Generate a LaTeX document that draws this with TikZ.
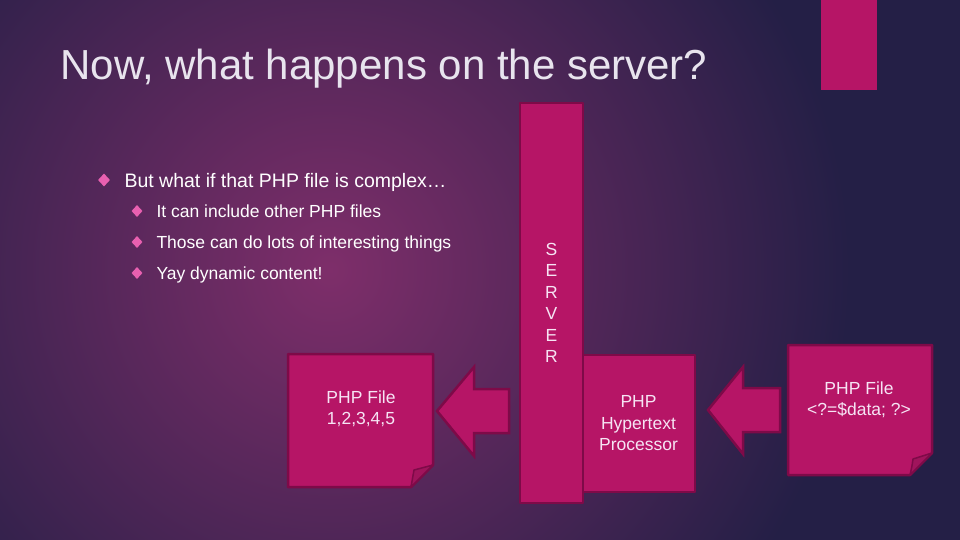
\documentclass[tikz,border=0pt]{standalone}
\usepackage{fontspec}
\setmainfont{Liberation Sans}
\usetikzlibrary{
  shapes.geometric,
  positioning,
  calc
}
\definecolor{bgdark}{RGB}{36, 31, 70}
\definecolor{bgglow}{RGB}{126, 46, 106}
\definecolor{notefill}{RGB}{182, 21, 102}
\definecolor{noteedge}{RGB}{126, 10, 72}
\definecolor{foldfill}{RGB}{160, 20, 92}
\definecolor{bulletcolor}{RGB}{232, 96, 176}
\definecolor{titlecolor}{RGB}{232, 228, 238}
\definecolor{notetext}{RGB}{246, 228, 244}
\tikzset{
notebody/.style={
  fill=notefill,
  draw=noteedge,
  line width=2.5pt,
  line join=round
},
notelabel/.style={
  align=center,
  font=\fontsize{17.5}{21.5}\selectfont,
  text=notetext
},
serverbox/.style={
  notebody,
  notelabel,
  inner sep=0pt
},
blockarrow/.style={
  fill=notefill,
  draw=noteedge,
  line width=2.5pt
},
titlelabel/.style={
  anchor=base west,
  font=\fontsize{42}{50}\selectfont,
  text=titlecolor
},
itemlabel/.style={
  anchor=base west,
  font=\fontsize{19.5}{24}\selectfont,
  text=white
},
subitemlabel/.style={
  anchor=base west,
  font=\fontsize{17.5}{21}\selectfont,
  text=white
},
bulletmark/.style={
  diamond,
  fill=bulletcolor,
  inner sep=0pt,
  minimum width=12pt,
  minimum height=13pt
},
subbulletmark/.style={
  bulletmark,
  minimum width=11pt,
  minimum height=12pt
}
}

\begin{document}
\begin{tikzpicture}[x=1pt,y=-1pt]
  % background
  \fill[bgdark] (0,0) rectangle (960,540);
  \begin{scope}
    \clip (0,0) rectangle (960,540);
    \shade[inner color=bgglow, outer color=bgdark] (330,270) circle (520);
  \end{scope}
  \useasboundingbox (0,0) rectangle (960,540);
  \fill[notefill] (821,0) rectangle (877,90);

  \node[titlelabel] (title) at (57,80) {Now, what happens on the server?};

  \node[bulletmark] (mark1) at (104,180) {};
  \node[itemlabel] (item1) at (121,187) {But what if that PHP file is complex…};
  \node[subbulletmark] (mark2) at (137,211) {};
  \node[subitemlabel] (item2) at (153,217) {It can include other PHP files};
  \node[subbulletmark] (mark3) at (137,242) {};
  \node[subitemlabel] (item3) at (153,248) {Those can do lots of interesting things};
  \node[subbulletmark] (mark4) at (137,273) {};
  \node[subitemlabel] (item4) at (153,279) {Yay dynamic content!};

  % server and processor
  \node[serverbox, minimum width=113pt, minimum height=137pt] (proc) at (638.5,423.5) {PHP\\Hypertext\\Processor};
  \node[serverbox, minimum width=63pt, minimum height=400pt] (server) at (551.5,303) {S\\E\\R\\V\\E\\R};

  % php files
  \draw[notebody] (288,354) -- (433,354) -- (433,465) -- (411,487) -- (288,487) -- cycle;
  \draw[notebody, fill=foldfill, line width=1.5pt] (433,465) -- (411,487) .. controls (413,478) .. (414,470) -- cycle;
  \node[notelabel] (phpfile) at (361,409) {PHP File\\1,2,3,4,5};

  \draw[notebody] (788,345) -- (932,345) -- (932,453) -- (910,475) -- (788,475) -- cycle;
  \draw[notebody, fill=foldfill, line width=1.5pt] (932,453) -- (910,475) .. controls (912,466) .. (913,459) -- cycle;
  \node[notelabel] (source) at (859,400) {PHP File\\<?=\$data; ?>};

  % arrows
  \draw[blockarrow] (437,411) -- (474,367) -- (474,389) -- (509,389) -- (509,433) -- (474,433) -- (474,456) -- cycle;
  \draw[blockarrow] (708,410) -- (743,367) -- (743,388) -- (780,388) -- (780,432) -- (743,432) -- (743,454) -- cycle;
\end{tikzpicture}
\end{document}
